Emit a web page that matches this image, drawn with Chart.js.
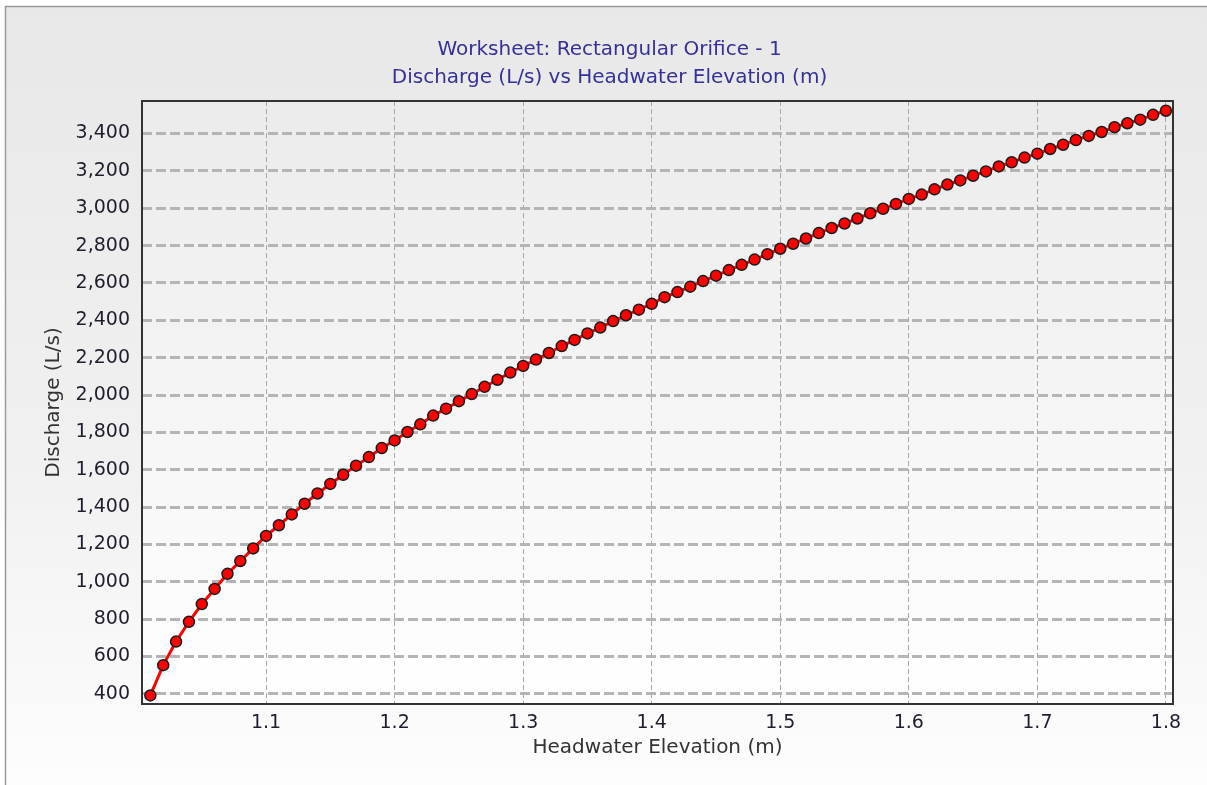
<!DOCTYPE html>
<html>
<head>
<meta charset="utf-8">
<script src="https://cdn.jsdelivr.net/npm/chart.js@4"></script>
<style>
  html, body { margin: 0; padding: 0; background: #ffffff; }
  #wrap { width: 1207px; height: 785px; }
</style>
</head>
<body>
<div id="wrap"><canvas id="orificeChart" width="1207" height="785"></canvas></div>
<script>
var elevation = [
    1.01, 1.02, 1.03, 1.04, 1.05, 1.06, 1.07, 1.08, 1.09, 1.10,
    1.11, 1.12, 1.13, 1.14, 1.15, 1.16, 1.17, 1.18, 1.19, 1.20,
    1.21, 1.22, 1.23, 1.24, 1.25, 1.26, 1.27, 1.28, 1.29, 1.30,
    1.31, 1.32, 1.33, 1.34, 1.35, 1.36, 1.37, 1.38, 1.39, 1.40,
    1.41, 1.42, 1.43, 1.44, 1.45, 1.46, 1.47, 1.48, 1.49, 1.50,
    1.51, 1.52, 1.53, 1.54, 1.55, 1.56, 1.57, 1.58, 1.59, 1.60,
    1.61, 1.62, 1.63, 1.64, 1.65, 1.66, 1.67, 1.68, 1.69, 1.70,
    1.71, 1.72, 1.73, 1.74, 1.75, 1.76, 1.77, 1.78, 1.79, 1.80
];

var discharge = [
    392, 554, 680, 786, 881, 962, 1043, 1111, 1179, 1246,
    1303, 1361, 1418, 1473, 1524, 1573, 1622, 1668, 1716, 1757,
    1802, 1843, 1890, 1927, 1967, 2005, 2044, 2082, 2120, 2156,
    2190, 2225, 2262, 2295, 2330, 2361, 2396, 2427, 2457, 2488,
    2524, 2551, 2580, 2610, 2639, 2669, 2697, 2725, 2754, 2783,
    2810, 2838, 2867, 2894, 2918, 2945, 2973, 2997, 3023, 3050,
    3073, 3101, 3127, 3149, 3174, 3197, 3224, 3246, 3271, 3292,
    3317, 3340, 3365, 3387, 3408, 3434, 3455, 3474, 3500, 3522
];

var xTicks = [1.1, 1.2, 1.3, 1.4, 1.5, 1.6, 1.7, 1.8];
var yTicks = [400, 600, 800, 1000, 1200, 1400, 1600, 1800, 2000, 2200, 2400, 2600, 2800, 3000, 3200, 3400];

var titleLines = ['Worksheet: Rectangular Orifice - 1', 'Discharge (L/s) vs Headwater Elevation (m)'];

document.addEventListener('DOMContentLoaded', function () {
    var ctx = document.getElementById('orificeChart').getContext('2d');
    var fontFamily = "Tahoma, 'DejaVu Sans', Verdana, sans-serif";

    var points = elevation.map(function (x, i) {
        return { x: x, y: discharge[i] };
    });

    // panel + plot backgrounds, plot frame
    var backdrop = {
        id: 'backdrop',
        beforeDraw: function (chart) {
            var c = chart.ctx;
            var w = chart.width, h = chart.height;
            var a = chart.chartArea;
            c.save();
            c.fillStyle = '#ffffff';
            c.fillRect(0, 0, w, h);
            var g = c.createLinearGradient(0, 6, 0, h);
            g.addColorStop(0, '#e8e8e8');
            g.addColorStop(0.6, '#f1f1f1');
            g.addColorStop(1, '#fdfdfd');
            c.fillStyle = g;
            c.fillRect(5, 6, w - 5, h - 6);
            c.strokeStyle = '#9a9a9a';
            c.lineWidth = 1.5;
            c.beginPath();
            c.moveTo(5.5, h);
            c.lineTo(5.5, 6.5);
            c.lineTo(w, 6.5);
            c.stroke();

            var pg = c.createLinearGradient(0, a.top, 0, a.bottom);
            pg.addColorStop(0, '#ebebeb');
            pg.addColorStop(1, '#ffffff');
            c.fillStyle = pg;
            c.fillRect(a.left, a.top, a.right - a.left, a.bottom - a.top);
            c.restore();
        },
        beforeDatasetsDraw: function (chart) {
            var c = chart.ctx;
            var a = chart.chartArea;
            c.save();
            c.strokeStyle = '#333333';
            c.lineWidth = 2;
            c.strokeRect(a.left, a.top, a.right - a.left, a.bottom - a.top);
            c.restore();
        }
    };

    new Chart(ctx, {
        type: 'line',
        data: {
            datasets: [{
                data: points,
                borderColor: '#ff0000',
                borderWidth: 3,
                backgroundColor: '#ff0000',
                pointBackgroundColor: '#ff0000',
                pointBorderColor: '#1a1a1a',
                pointBorderWidth: 1.5,
                pointRadius: 5.5,
                tension: 0,
                clip: false
            }]
        },
        options: {
            responsive: false,
            animation: false,
            layout: {
                padding: { left: 12, right: 0, top: 0, bottom: 0 }
            },
            plugins: {
                legend: { display: false },
                tooltip: { enabled: false },
                title: {
                    display: true,
                    text: titleLines,
                    color: '#35309a',
                    font: { family: fontFamily, size: 20, weight: 'normal', lineHeight: 28 / 20 },
                    padding: { top: 36, bottom: 9 }
                }
            },
            scales: {
                x: {
                    type: 'linear',
                    min: 1.0035,
                    max: 1.8055,
                    afterBuildTicks: function (scale) {
                        scale.ticks = xTicks.map(function (v) { return { value: v }; });
                    },
                    afterFit: function (scale) {
                        scale.height = 81;
                    },
                    ticks: {
                        color: '#1e1e2e',
                        font: { family: fontFamily, size: 19 },
                        padding: 8,
                        maxRotation: 0,
                        callback: function (v) { return v.toFixed(1); }
                    },
                    grid: {
                        color: '#a8a8a8',
                        lineWidth: 1,
                        drawTicks: false
                    },
                    border: { display: false, dash: [5, 3] },
                    title: {
                        display: true,
                        text: 'Headwater Elevation (m)',
                        color: '#333333',
                        font: { family: fontFamily, size: 20 },
                        padding: { top: 0, bottom: 25 }
                    }
                },
                y: {
                    type: 'linear',
                    min: 346,
                    max: 3574,
                    afterBuildTicks: function (scale) {
                        scale.ticks = yTicks.map(function (v) { return { value: v }; });
                    },
                    afterFit: function (scale) {
                        scale.width = 130;
                    },
                    ticks: {
                        color: '#1e1e2e',
                        font: { family: fontFamily, size: 19 },
                        padding: 12,
                        callback: function (v) { return v.toLocaleString('en-US'); }
                    },
                    grid: {
                        color: '#b5b5b5',
                        lineWidth: 3,
                        drawTicks: false
                    },
                    border: { display: false, dash: [10, 4] },
                    title: {
                        display: true,
                        text: 'Discharge (L/s)',
                        color: '#333333',
                        font: { family: fontFamily, size: 20 },
                        padding: { top: 30, bottom: 0 }
                    }
                },
                // empty right-hand spacer so the plot ends where the reference's does
                spacer: {
                    type: 'linear',
                    position: 'right',
                    display: true,
                    afterFit: function (scale) {
                        scale.width = 34;
                    },
                    ticks: { display: false },
                    grid: { display: false, drawTicks: false },
                    border: { display: false }
                }
            }
        },
        plugins: [backdrop]
    });
});
</script>
</body>
</html>
